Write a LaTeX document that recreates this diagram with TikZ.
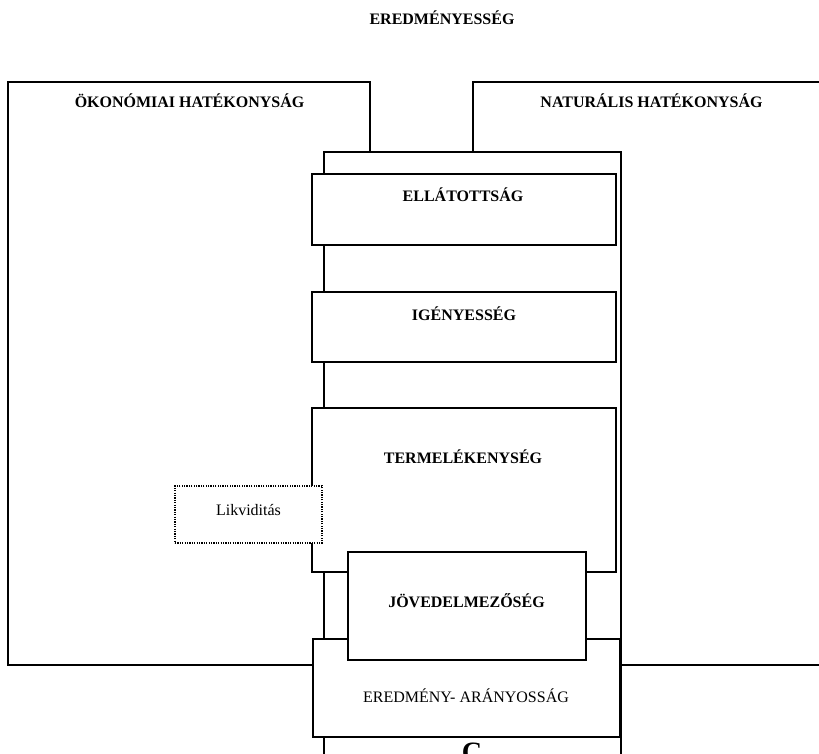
\documentclass[tikz,border=0pt]{standalone}
\usepackage{fontspec}
\setmainfont{Liberation Serif}
\newcommand{\myunit}{1pt}
\tikzset{
    node style box/.style={draw,rectangle,fill=white,line width=1.4pt,inner sep=0pt},
    node style dots/.style={draw,rectangle,fill=white,line width=1.3pt,dash pattern=on 1.2pt off 1.2pt,inner sep=0pt},
    node style head/.style={anchor=base,inner sep=0pt,font=\fontsize{16}{19}\selectfont\bfseries},
    node style text/.style={anchor=base,inner sep=0pt,font=\fontsize{16}{19}\selectfont},
}

\begin{document}
\begin{tikzpicture}[x=\myunit,y=-\myunit]
\useasboundingbox (0,0) rectangle (819,754);
\clip (0,0) rectangle (819,754);
% cim
\node[node style head] (cim) at (442,25) {EREDMÉNYESSÉG};
% a ket nagy doboz
\node[node style box,minimum width=362,minimum height=583] (oeko) at (189,373.5) {};
\node[node style head] (oeko-t) at (189.5,108) {ÖKONÓMIAI HATÉKONYSÁG};
\node[node style box,minimum width=357,minimum height=583] (natu) at (651.5,373.5) {};
\node[node style head] (natu-t) at (651.5,108) {NATURÁLIS HATÉKONYSÁG};
% kozepso oszlop
\node[node style box,minimum width=297,minimum height=648] (oszlop) at (472.5,476) {};
\node[node style box,minimum width=304,minimum height=71] (ella) at (464,209.5) {};
\node[node style head] (ella-t) at (463,202) {ELLÁTOTTSÁG};
\node[node style box,minimum width=304,minimum height=70] (igeny) at (464,327) {};
\node[node style head] (igeny-t) at (464,320) {IGÉNYESSÉG};
\node[node style box,minimum width=304,minimum height=164] (termel) at (464,490) {};
\node[node style head] (termel-t) at (463,463) {TERMELÉKENYSÉG};
\node[node style dots,minimum width=147,minimum height=57] (likvid) at (248.5,514.5) {};
\node[node style text] (likvid-t) at (248.5,515) {Likviditás};
\node[node style box,minimum width=307,minimum height=98] (eredm) at (466.5,688) {};
\node[node style text] (eredm-t) at (466,702) {EREDMÉNY- ARÁNYOSSÁG};
\node[node style box,minimum width=238,minimum height=108] (jov) at (467,606) {};
\node[node style head] (jov-t) at (466.5,607) {JÖVEDELMEZŐSÉG};
% also betu
\node[anchor=north,inner sep=0pt,font=\fontsize{28}{30}\selectfont\bfseries] (c) at (472,743) {C};
\end{tikzpicture}
\end{document}
